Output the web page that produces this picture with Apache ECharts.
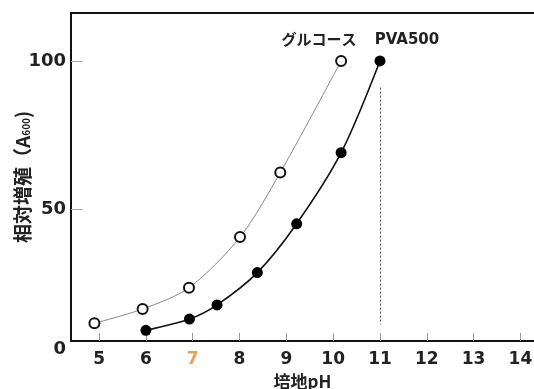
<!DOCTYPE html>
<html><head><meta charset="utf-8">
<script src="https://cdn.jsdelivr.net/npm/echarts@6/dist/echarts.min.js"></script>
<style>html,body{margin:0;padding:0;background:#fff}#c{width:534px;height:389px}</style>
</head><body><div id="c"></div>
<script>
// data
const seriesNames = ['グルコース', 'PVA500'];
const glucoseX = [4.9, 5.93, 6.92, 8.01, 8.87, 10.17];
const glucoseY = [11.4, 16.2, 23.4, 40.5, 62.3, 100];
const pvaX = [6.0, 6.93, 7.52, 8.38, 9.22, 10.17, 11.0];
const pvaY = [9.0, 12.8, 17.6, 28.5, 45.0, 69.0, 100];
const xTicks = [5, 6, 7, 8, 9, 10, 11, 12, 13, 14];
const yTicks = [50, 100];
const yZeroLabel = '0';
const highlightTick = 7;
const dropLineX = 11, dropLineTop = 91, dropLineBottom = 11;
const xName = '培地pH';

const xMin = 4.4, xMax = 14.29, yMin = 5.4, yMax = 116.3;

const pair = (xs, ys) => xs.map((x, i) => [x, ys[i]]);
const glucoseData = pair(glucoseX, glucoseY);
const pvaData = pair(pvaX, pvaY);

const chart = echarts.init(document.getElementById('c'));
const numFont = 'DejaVu Sans';
const cjk = '"Noto Sans CJK JP"';

chart.setOption({
  animation: false,
  backgroundColor: '#fff',
  grid: { left: 71, right: 0, top: 12.7, bottom: 48, containLabel: false, outerBoundsMode: 'none' },
  xAxis: [{
    type: 'value', min: xMin, max: xMax, position: 'bottom',
    name: xName, nameLocation: 'middle', nameGap: 32, nameMoveOverlap: false,
    nameTextStyle: { fontFamily: cjk, fontWeight: 'bold', fontSize: 17, color: '#222' },
    axisLine: { lineStyle: { color: '#111', width: 2 } },
    axisTick: { inside: true, length: 8, customValues: xTicks, lineStyle: { color: '#999', width: 1 } },
    axisLabel: {
      customValues: xTicks, margin: 10,
      fontFamily: numFont, fontWeight: 'bold', fontSize: 17, color: '#222',
      formatter: v => v === highlightTick ? '{o|' + v + '}' : String(v),
      rich: { o: { color: '#e8a060', fontFamily: numFont, fontWeight: 'bold', fontSize: 17 } }
    },
    splitLine: { show: false }
  }, {
    type: 'value', min: xMin, max: xMax, position: 'top',
    axisLine: { lineStyle: { color: '#111', width: 2 } },
    axisTick: { show: false }, axisLabel: { show: false }, splitLine: { show: false }
  }],
  yAxis: {
    type: 'value', min: yMin, max: yMax,
    name: '{n|相対増殖（A}{s|600}{n|)}', nameLocation: 'middle', nameGap: 39, nameRotate: 90,
    nameMoveOverlap: false,
    nameTextStyle: {
      rich: {
        n: { fontFamily: cjk, fontWeight: 'bold', fontSize: 19, color: '#222' },
        s: { fontFamily: cjk, fontWeight: 'bold', fontSize: 10, color: '#222', padding: [8, 0, 0, 0] }
      }
    },
    axisLine: { lineStyle: { color: '#111', width: 2 } },
    axisTick: { inside: true, length: 12, customValues: yTicks, lineStyle: { color: '#aaa', width: 1 } },
    axisLabel: {
      customValues: [yMin].concat(yTicks), margin: 5,
      fontFamily: numFont, fontWeight: 'bold', fontSize: 18, color: '#222',
      formatter: v => v === yMin ? '{z|' + yZeroLabel + '}' : String(v),
      rich: { z: { fontFamily: numFont, fontWeight: 'bold', fontSize: 18, color: '#222', padding: [16, 0, 0, 0] } }
    },
    splitLine: { show: false }
  },
  series: [{
    name: seriesNames[0], type: 'line', data: glucoseData, smooth: 0.3,
    symbol: 'circle', symbolSize: 10,
    lineStyle: { color: '#888', width: 1 },
    itemStyle: { color: '#fff', borderColor: '#111', borderWidth: 2 },
    label: {
      show: true, position: 'top', distance: 8, offset: [-22, 0],
      formatter: p => p.dataIndex === glucoseData.length - 1 ? seriesNames[0] : '',
      fontFamily: cjk, fontWeight: 'bold', fontSize: 15, color: '#222'
    },
    z: 3
  }, {
    name: seriesNames[1], type: 'line', data: pvaData, smooth: 0.3,
    symbol: 'circle', symbolSize: 11,
    lineStyle: { color: '#111', width: 1.6 },
    itemStyle: { color: '#000', borderWidth: 0 },
    label: {
      show: true, position: 'top', distance: 8, offset: [27, 0],
      formatter: p => p.dataIndex === pvaData.length - 1 ? seriesNames[1] : '',
      fontFamily: numFont, fontWeight: 'bold', fontSize: 15, color: '#222'
    },
    markLine: {
      silent: true, symbol: 'none', label: { show: false },
      lineStyle: { type: [2, 2], color: '#555', width: 1 },
      data: [[{ coord: [dropLineX, dropLineTop] }, { coord: [dropLineX, dropLineBottom] }]]
    },
    z: 4
  }]
});
</script></body></html>
